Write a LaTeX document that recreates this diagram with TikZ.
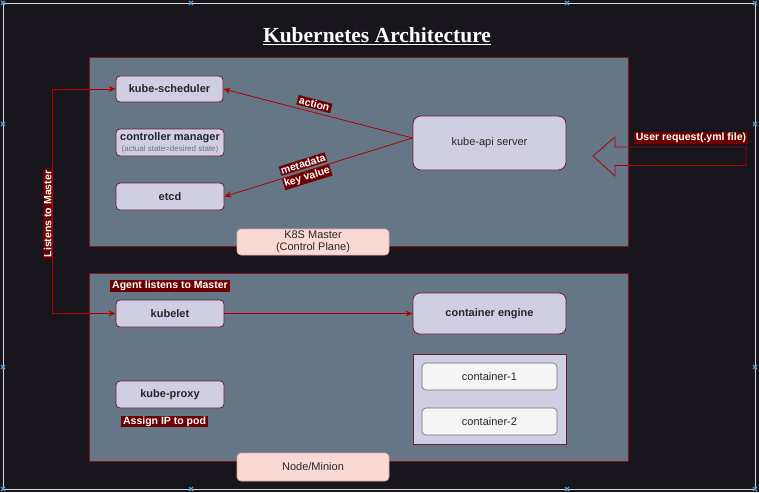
\documentclass[tikz,border=0pt]{standalone}
\usepackage{fontspec}
\setmainfont{Liberation Sans}
\newfontfamily\titlefont{Liberation Serif}
\usetikzlibrary{arrows.meta,positioning}
\definecolor{bgc}{RGB}{24,21,28}
\definecolor{panelc}{RGB}{101,118,135}
\definecolor{panelline}{RGB}{130,20,25}
\definecolor{boxc}{RGB}{208,206,226}
\definecolor{boxline}{RGB}{110,30,45}
\definecolor{pinkc}{RGB}{250,217,213}
\definecolor{pinkline}{RGB}{220,170,160}
\definecolor{lblc}{RGB}{111,0,0}
\definecolor{arrc}{RGB}{178,0,0}
\definecolor{contc}{RGB}{245,245,245}
\definecolor{contline}{RGB}{110,110,110}
\definecolor{handlec}{RGB}{80,160,210}
\definecolor{framec}{RGB}{215,215,220}
\tikzset{
  px/.style={x=1pt,y=-1pt},
  panel/.style={draw=panelline,fill=panelc,line width=0.8pt},
  compbox/.style={draw=boxline,fill=boxc,rounded corners=4pt,line width=0.8pt,
    font=\fontsize{11}{13}\selectfont\bfseries,text=black!85,align=center,inner sep=0pt},
  pinkbox/.style={draw=pinkline,fill=pinkc,rounded corners=4pt,line width=0.6pt,
    font=\fontsize{11}{12}\selectfont,text=black!85,align=center,inner sep=0pt},
  contbox/.style={draw=contline,fill=contc,rounded corners=4pt,line width=0.6pt,
    font=\fontsize{11}{13}\selectfont,text=black!85,inner sep=0pt},
  tag/.style={fill=lblc,text=white,font=\fontsize{10.5}{11}\selectfont\bfseries,
    inner xsep=2pt,inner ysep=1pt},
  conn/.style={draw=arrc,line width=0.8pt,-{Stealth[length=7pt,width=6pt]}},
  handle/.style={draw=handlec,line width=1.2pt},
}
\begin{document}
\begin{tikzpicture}[px]
\useasboundingbox (0,0) rectangle (759,492);
\fill[bgc] (0,0) rectangle (759,492);
\draw[framec,line width=0.8pt] (3,3) rectangle (755,489);
\foreach \hx/\hy in {3/3,191/3,567/3,755/3,3/124,755/124,3/367,755/367,3/489,191/489,567/489,755/489}{
  \draw[handle] (\hx-2,\hy-2) -- (\hx+2,\hy+2) (\hx-2,\hy+2) -- (\hx+2,\hy-2);
}
% title
\node[text=white,font=\titlefont\fontsize{21.5}{23}\selectfont\bfseries,inner sep=0pt] (title) at (377,35) {Kubernetes Architecture};
\draw[white,line width=1pt] ([yshift=-2.5pt]title.base west) -- ([yshift=-2.5pt]title.base east);

% panels
\node[panel,minimum width=539pt,minimum height=189pt,inner sep=0pt] (master) at (358.5,151.5) {};
\node[panel,minimum width=539pt,minimum height=188pt,inner sep=0pt] (worker) at (358.5,367) {};

% master components
\node[compbox,minimum width=107pt,minimum height=26pt] (sched) at (169.5,89) {kube-scheduler};
\node[compbox,minimum width=108pt,minimum height=27pt] (ctrl) at (170,142.5)
  {controller manager\\[-2pt]{\fontsize{8}{8}\selectfont\mdseries\color{black!55}(actual state=desired state)}};
\node[compbox,minimum width=108pt,minimum height=27pt] (etcd) at (170,196.5) {etcd};
\node[compbox,rounded corners=8pt,minimum width=153pt,minimum height=54pt,font=\fontsize{11}{13}\selectfont] (api) at (489.5,143) {kube-api server};
\node[pinkbox,minimum width=152pt,minimum height=26pt] (mlabel) at (313,242) {K8S Master\\(Control Plane)};

% worker components
\node[compbox,minimum width=108pt,minimum height=27pt] (kubelet) at (170,313.5) {kubelet};
\node[tag] (agent) at (170,286) {Agent listens to Master};
\node[compbox,rounded corners=7pt,minimum width=153pt,minimum height=41pt] (engine) at (489.5,313.5) {container engine};
\node[compbox,minimum width=108pt,minimum height=27pt] (proxy) at (170,394.5) {kube-proxy};
\node[tag] (assign) at (164.5,421.5) {Assign IP to pod};
\node[draw=boxline,fill=boxc,line width=0.8pt,minimum width=153pt,minimum height=90pt,inner sep=0pt] (pod) at (489.5,399) {};
\node[contbox,minimum width=135pt,minimum height=27pt] (c1) at (489.5,376.5) {container-1};
\node[contbox,minimum width=135pt,minimum height=27pt] (c2) at (489.5,421.5) {container-2};
\node[pinkbox,minimum width=152pt,minimum height=28pt] (nlabel) at (313,467) {Node/Minion};

% connectors
\coordinate (lm) at (52,214);
\draw[conn] (lm) |- (sched.west);
\draw[conn] (lm) |- (kubelet.west);
\node[tag,rotate=90] (listen) at (47.5,214) {Listens to Master};
\draw[conn] (kubelet.east) -- (engine.west);
\coordinate (apil) at ([yshift=5pt]api.west);
\draw[conn] (apil) -- node[tag,sloped,pos=0.53,above=3pt] (act) {action} (sched.east);
\draw[conn] (apil) -- node[sloped,pos=0.57,inner sep=0pt] (meta)
  {\setlength{\fboxsep}{1pt}\begin{tabular}{@{}c@{}}\colorbox{lblc}{\fontsize{10.5}{11}\selectfont\bfseries\color{white}metadata}\\[0.5pt]\colorbox{lblc}{\fontsize{10.5}{11}\selectfont\bfseries\color{white}key value}\end{tabular}} (etcd.east);

% user request hollow arrow
\coordinate (tip) at (593,156);
\draw[arrc,line width=0.8pt] (tip) -- (615,137) -- (615,147) -- (746,147) -- (746,165.5) -- (615,165.5) -- (615,176) -- cycle;
\node[tag] (user) at (691,138) {User request(.yml file)};
\end{tikzpicture}
\end{document}
